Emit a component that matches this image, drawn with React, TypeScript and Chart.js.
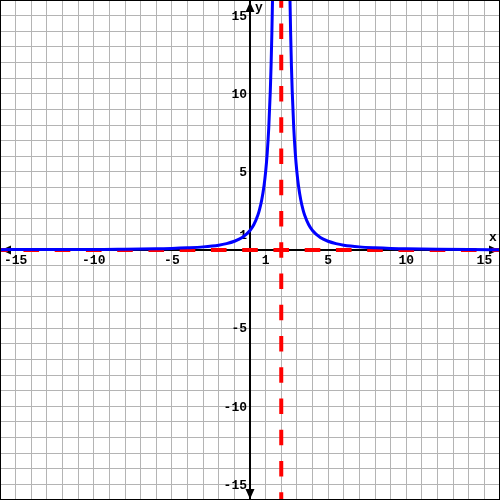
import React, { useEffect, useRef } from "react";
import { Chart, registerables } from "chart.js";

Chart.register(...registerables);

// Axis range
const axisMin = -16;
const axisMax = 16;

// Curve, left branch
const leftX = [-16, -14, -12, -10, -8, -6, -5, -4, -3, -2, -1.5, -1, -0.5, 0, 0.25, 0.5, 0.6, 0.75, 0.9, 1, 1.1, 1.2, 1.3, 1.35, 1.4, 1.45, 1.5];
const leftY = [0.02, 0.03, 0.03, 0.03, 0.05, 0.08, 0.1, 0.14, 0.2, 0.31, 0.41, 0.56, 0.8, 1.25, 1.63, 2.22, 2.55, 3.2, 4.13, 5, 6.17, 7.81, 10.2, 11.83, 13.9, 16.5, 20];
// Curve, right branch
const rightX = [2.5, 2.55, 2.6, 2.65, 2.7, 2.8, 2.9, 3, 3.1, 3.25, 3.4, 3.5, 3.75, 4, 4.5, 5, 5.5, 6, 7, 8, 9, 10, 12, 14, 16];
const rightY = [20, 16.5, 13.9, 11.83, 10.2, 7.81, 6.17, 5, 4.13, 3.2, 2.55, 2.22, 1.63, 1.25, 0.8, 0.56, 0.41, 0.31, 0.2, 0.14, 0.1, 0.08, 0.05, 0.03, 0.02];

// Asymptotes
const verticalAsymptoteX = [2];
const horizontalAsymptoteY = [0];

// Tick labels
const xTickValues = [-15, -10, -5, 1, 5, 10, 15];
const xTickLabels = ["-15", "-10", "-5", "1", "5", "10", "15"];
const yTickValues = [15, 10, 5, 1, -5, -10, -15];
const yTickLabels = ["15", "10", "5", "1", "-5", "-10", "-15"];

const FONT = "bold 13px 'Courier New', 'Liberation Mono', 'DejaVu Sans Mono', monospace";

const axesPlugin = {
  id: "axesPlugin",
  beforeDatasetsDraw(chart: any) {
    const { ctx, scales } = chart;
    const xs = scales.x;
    const ys = scales.y;
    const area = chart.chartArea;
    const x0 = Math.round(xs.getPixelForValue(0));
    const y0 = Math.round(ys.getPixelForValue(0));
    ctx.save();
    ctx.strokeStyle = "#000";
    ctx.fillStyle = "#000";
    ctx.lineWidth = 2;
    ctx.beginPath();
    ctx.moveTo(area.left, y0);
    ctx.lineTo(area.right, y0);
    ctx.moveTo(x0, area.top);
    ctx.lineTo(x0, area.bottom);
    ctx.stroke();
    // arrows
    const tri = (pts: number[][]) => {
      ctx.beginPath();
      ctx.moveTo(pts[0][0], pts[0][1]);
      ctx.lineTo(pts[1][0], pts[1][1]);
      ctx.lineTo(pts[2][0], pts[2][1]);
      ctx.closePath();
      ctx.fill();
    };
    tri([[x0, area.top + 2], [x0 - 4.5, area.top + 12], [x0 + 4.5, area.top + 12]]);
    tri([[x0, area.bottom - 1], [x0 - 4.5, area.bottom - 11], [x0 + 4.5, area.bottom - 11]]);
    tri([[area.left + 1, y0], [area.left + 11, y0 - 4.5], [area.left + 11, y0 + 4.5]]);
    tri([[area.right - 1, y0], [area.right - 11, y0 - 4.5], [area.right - 11, y0 + 4.5]]);

    ctx.font = FONT;
    ctx.textAlign = "center";
    ctx.textBaseline = "top";
    xTickValues.forEach((v, i) => {
      ctx.fillText(xTickLabels[i], xs.getPixelForValue(v), y0 + 4);
    });
    ctx.textAlign = "right";
    ctx.textBaseline = "middle";
    yTickValues.forEach((v, i) => {
      ctx.fillText(yTickLabels[i], x0 - 3, ys.getPixelForValue(v) + 1);
    });
    ctx.textAlign = "left";
    ctx.fillText("y", x0 + 5, area.top + 8);
    ctx.textAlign = "center";
    ctx.fillText("x", area.right - 7, y0 - 12);
    ctx.restore();
  },
  afterDraw(chart: any) {
    const { ctx } = chart;
    ctx.save();
    ctx.strokeStyle = "#000";
    ctx.lineWidth = 1;
    ctx.strokeRect(0.5, 0.5, chart.width - 1, chart.height - 1);
    ctx.restore();
  },
};

export default function App() {
  const ref = useRef<HTMLCanvasElement>(null);
  useEffect(() => {
    document.body.style.margin = "0";
    if (!ref.current) return;
    const dashLen = 15.625;
    const chart = new Chart(ref.current, {
      type: "line",
      data: {
        datasets: [
          {
            label: "h-asym",
            data: [
              { x: axisMin, y: horizontalAsymptoteY[0] },
              { x: axisMax, y: horizontalAsymptoteY[0] },
            ],
            borderColor: "#ff0000",
            borderWidth: 4,
            borderDash: [dashLen, dashLen],
            borderDashOffset: dashLen / 2,
            pointRadius: 0,
            order: 3,
          },
          {
            label: "left",
            data: leftX.map((x, i) => ({ x, y: leftY[i] })),
            borderColor: "#0000ff",
            borderWidth: 3,
            pointRadius: 0,
            cubicInterpolationMode: "monotone",
            order: 2,
          },
          {
            label: "right",
            data: rightX.map((x, i) => ({ x, y: rightY[i] })),
            borderColor: "#0000ff",
            borderWidth: 3,
            pointRadius: 0,
            cubicInterpolationMode: "monotone",
            order: 2,
          },
          {
            label: "v-asym",
            data: [
              { x: verticalAsymptoteX[0], y: axisMax },
              { x: verticalAsymptoteX[0], y: axisMin },
            ],
            borderColor: "#ff0000",
            borderWidth: 4,
            borderDash: [dashLen, dashLen],
            borderDashOffset: dashLen / 2,
            pointRadius: 0,
            order: 1,
          },
        ],
      },
      options: {
        animation: false,
        responsive: false,
        maintainAspectRatio: false,
        layout: { padding: 0 },
        plugins: { legend: { display: false }, tooltip: { enabled: false } },
        scales: {
          x: {
            type: "linear",
            min: axisMin,
            max: axisMax,
            ticks: { display: false, stepSize: 1 },
            grid: { color: "#b4b4b4", drawTicks: false, lineWidth: 1 },
            border: { display: false },
            afterFit: (s: any) => { s.height = 0; },
          },
          y: {
            type: "linear",
            min: axisMin,
            max: axisMax,
            ticks: { display: false, stepSize: 1 },
            grid: { color: "#b4b4b4", drawTicks: false, lineWidth: 1 },
            border: { display: false },
            afterFit: (s: any) => { s.width = 0; },
          },
        },
      },
      plugins: [axesPlugin],
    } as any);
    return () => chart.destroy();
  }, []);
  return (
    <div style={{ width: 500, height: 500, background: "#fff" }}>
      <canvas ref={ref} width={500} height={500} style={{ display: "block" }} />
    </div>
  );
}
